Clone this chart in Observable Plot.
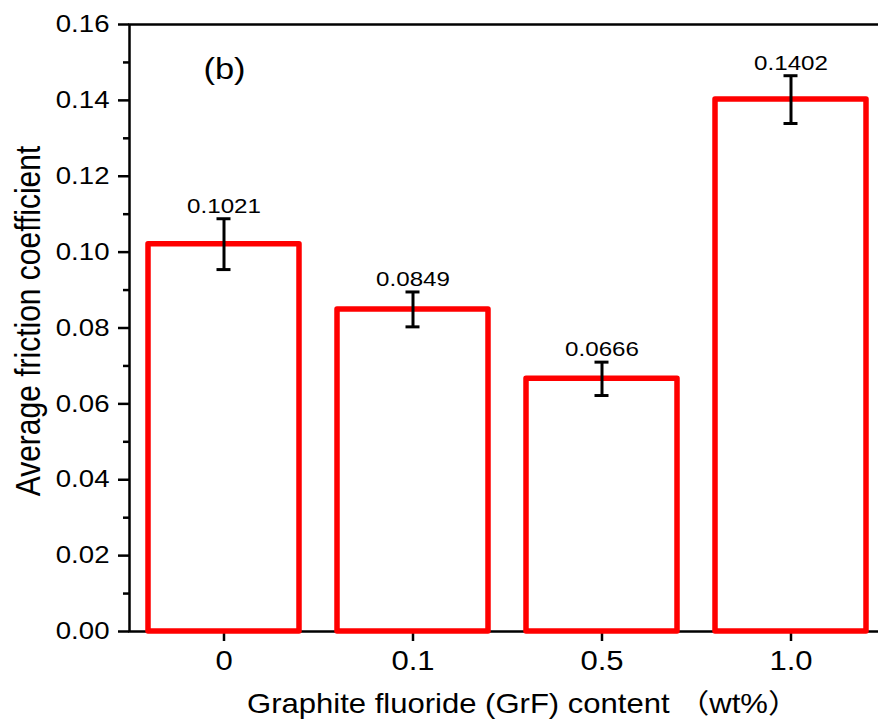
<!DOCTYPE html>
<html>
<head>
<meta charset="utf-8">
<script src="https://cdn.jsdelivr.net/npm/d3@7"></script>
<script src="https://cdn.jsdelivr.net/npm/@observablehq/plot@0.6"></script>
<style>
  html, body { margin: 0; padding: 0; background: white; }
</style>
</head>
<body>
<script>
const categories = ["0", "0.1", "0.5", "1.0"];
const frictionMeans = [0.1021, 0.0849, 0.0666, 0.1402];
const frictionErrors = [0.0067, 0.0046, 0.0044, 0.0063];
const yMajorTicks = [0, 0.02, 0.04, 0.06, 0.08, 0.10, 0.12, 0.14, 0.16];
const yMinorTicks = [0.01, 0.03, 0.05, 0.07, 0.09, 0.11, 0.13, 0.15];
const panelLabel = "(b)";
const xTitle = "Graphite fluoride (GrF) content （wt%）";
const yTitle = "Average friction coefficient";

const rows = categories.map((c, i) => ({cat: c, v: frictionMeans[i], e: frictionErrors[i]}));
const FONT = "'Liberation Sans', Arial, 'Noto Sans CJK SC', sans-serif";

const chart = Plot.plot({
  width: 878,
  height: 719,
  marginTop: 24,
  marginBottom: 88,
  marginLeft: 129,
  marginRight: -2,
  style: {fontFamily: FONT, background: "white", color: "black"},
  x: {domain: categories, range: [147.8, 866.4], paddingInner: 0.2, paddingOuter: 0, label: null},
  y: {domain: [0, 0.16], label: null},
  marks: [
    Plot.frame({stroke: "black", strokeWidth: 2.5}),
    Plot.axisY({ticks: yMinorTicks, tickSize: 6, tickFormat: () => "", strokeWidth: 2.5, label: null}),
    Plot.axisY({ticks: yMajorTicks, tickSize: 11, tickPadding: 9, tickFormat: d => d.toFixed(2), fontSize: 24, strokeWidth: 2.5, label: null}),
    Plot.axisX({tickSize: 10, tickPadding: 9, fontSize: 27, strokeWidth: 2.5, label: null}),
    Plot.barY(rows, {x: "cat", y1: 0, y2: "v", fill: "white", stroke: "#ff0000", strokeWidth: 5.5, strokeLinejoin: "round"}),
    Plot.ruleX(rows, {x: "cat", y1: d => d.v - d.e, y2: d => d.v + d.e, stroke: "black", strokeWidth: 3}),
    Plot.tickY(rows, {x: "cat", y: d => d.v + d.e, stroke: "black", strokeWidth: 3, insetLeft: 68.5, insetRight: 68.5}),
    Plot.tickY(rows, {x: "cat", y: d => d.v - d.e, stroke: "black", strokeWidth: 3, insetLeft: 68.5, insetRight: 68.5}),
    Plot.text(rows, {x: "cat", y: d => d.v + d.e, text: d => d.v.toFixed(4), fontSize: 21, lineAnchor: "middle", dy: -12.7, fill: "black"}),
    Plot.text([panelLabel], {frameAnchor: "top-left", dx: 95, dy: 45, fontSize: 30, textAnchor: "middle", lineAnchor: "middle", fill: "black"}),
    Plot.text([xTitle], {frameAnchor: "bottom", dx: 18, dy: 72.4, fontSize: 27, textAnchor: "middle", lineAnchor: "middle", fill: "black"}),
    Plot.text([yTitle], {frameAnchor: "left", dx: -101, dy: -7, rotate: -90, fontSize: 30, textAnchor: "middle", lineAnchor: "middle", fill: "black"})
  ]
});
document.body.append(chart);

// The reference artwork is horizontally stretched; emulate it on every text.
const S = 1.15;
chart.querySelectorAll("text").forEach(t => {
  if (!t.textContent.trim()) return;
  const b = t.getBBox();
  const tr = t.getAttribute("transform") || "";
  if (/rotate/.test(tr)) {
    const cy = b.y + b.height / 2;
    t.setAttribute("transform", `${tr} translate(0,${cy}) scale(1,${S}) translate(0,${-cy})`);
  } else {
    const anchor = getComputedStyle(t).textAnchor;
    const cx = anchor === "end" ? b.x + b.width : anchor === "start" ? b.x : b.x + b.width / 2;
    t.setAttribute("transform", `${tr} translate(${cx},0) scale(${S},1) translate(${-cx},0)`);
  }
});
</script>
</body>
</html>
